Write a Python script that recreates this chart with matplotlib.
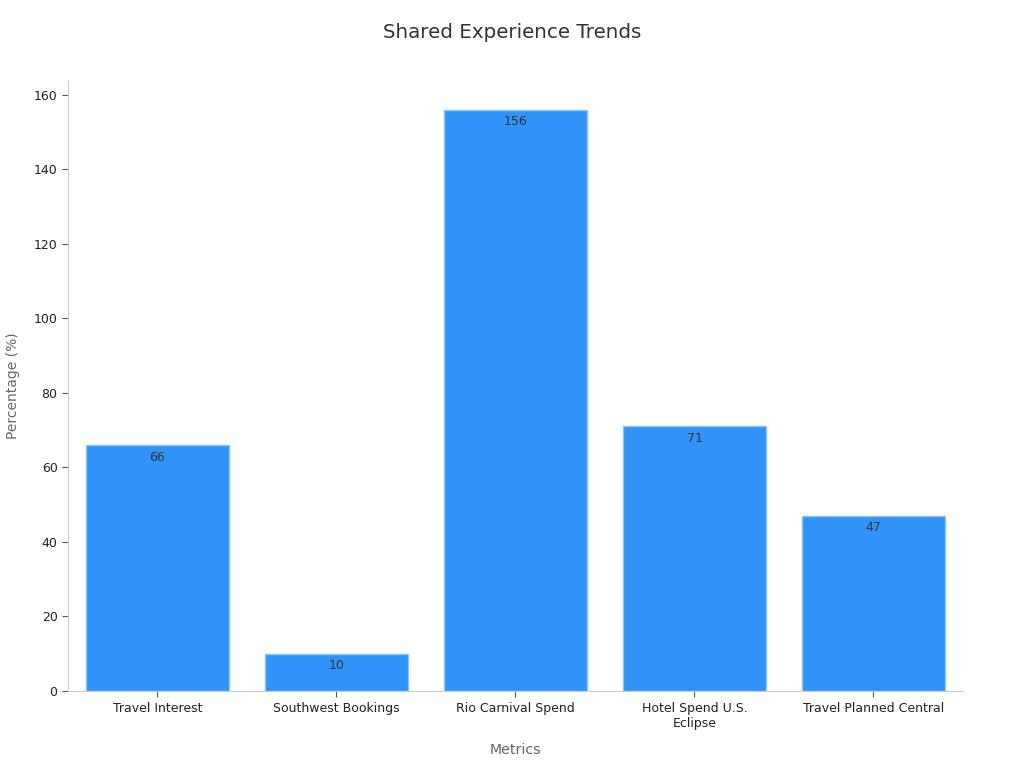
import matplotlib.pyplot as plt

categories = ["Travel Interest", "Southwest Bookings", "Rio Carnival Spend",
              "Hotel Spend U.S.\nEclipse", "Travel Planned Central"]
values = [66, 10, 156, 71, 47]

fig = plt.figure(figsize=(10.24, 7.68), dpi=100)
ax = fig.add_axes([0.0664, 0.1003, 0.874, 0.7955])

bars = ax.bar(range(len(categories)), values, width=0.8,
              color="#2f93f8", edgecolor="#8cc4fb", linewidth=1)

for b, v in zip(bars, values):
    ax.annotate(str(v), (b.get_x() + b.get_width() / 2, v),
                xytext=(0, -4), textcoords="offset points",
                ha="center", va="top", fontsize=9, color="#333333")

ax.set_xlim(-0.5, len(categories) - 0.5)
ax.set_ylim(0, 164)
ax.set_xticks(range(len(categories)))
ax.set_xticklabels(categories, fontsize=9, color="#222222")
ax.set_yticks(range(0, 161, 20))
ax.tick_params(axis="y", labelsize=9, labelcolor="#222222", color="#555555", length=4)
ax.tick_params(axis="x", color="#555555", length=4, pad=4)

for s in ["top", "right"]:
    ax.spines[s].set_visible(False)
for s in ["left", "bottom"]:
    ax.spines[s].set_color("#cccccc")

ax.set_xlabel("Metrics", fontsize=10.2, color="#666666", labelpad=9)
ax.set_ylabel("Percentage (%)", fontsize=10, color="#666666", labelpad=10)
fig.suptitle("Shared Experience Trends", fontsize=14.3, color="#333333", y=0.97)

fig.savefig("out.png", dpi=100)
